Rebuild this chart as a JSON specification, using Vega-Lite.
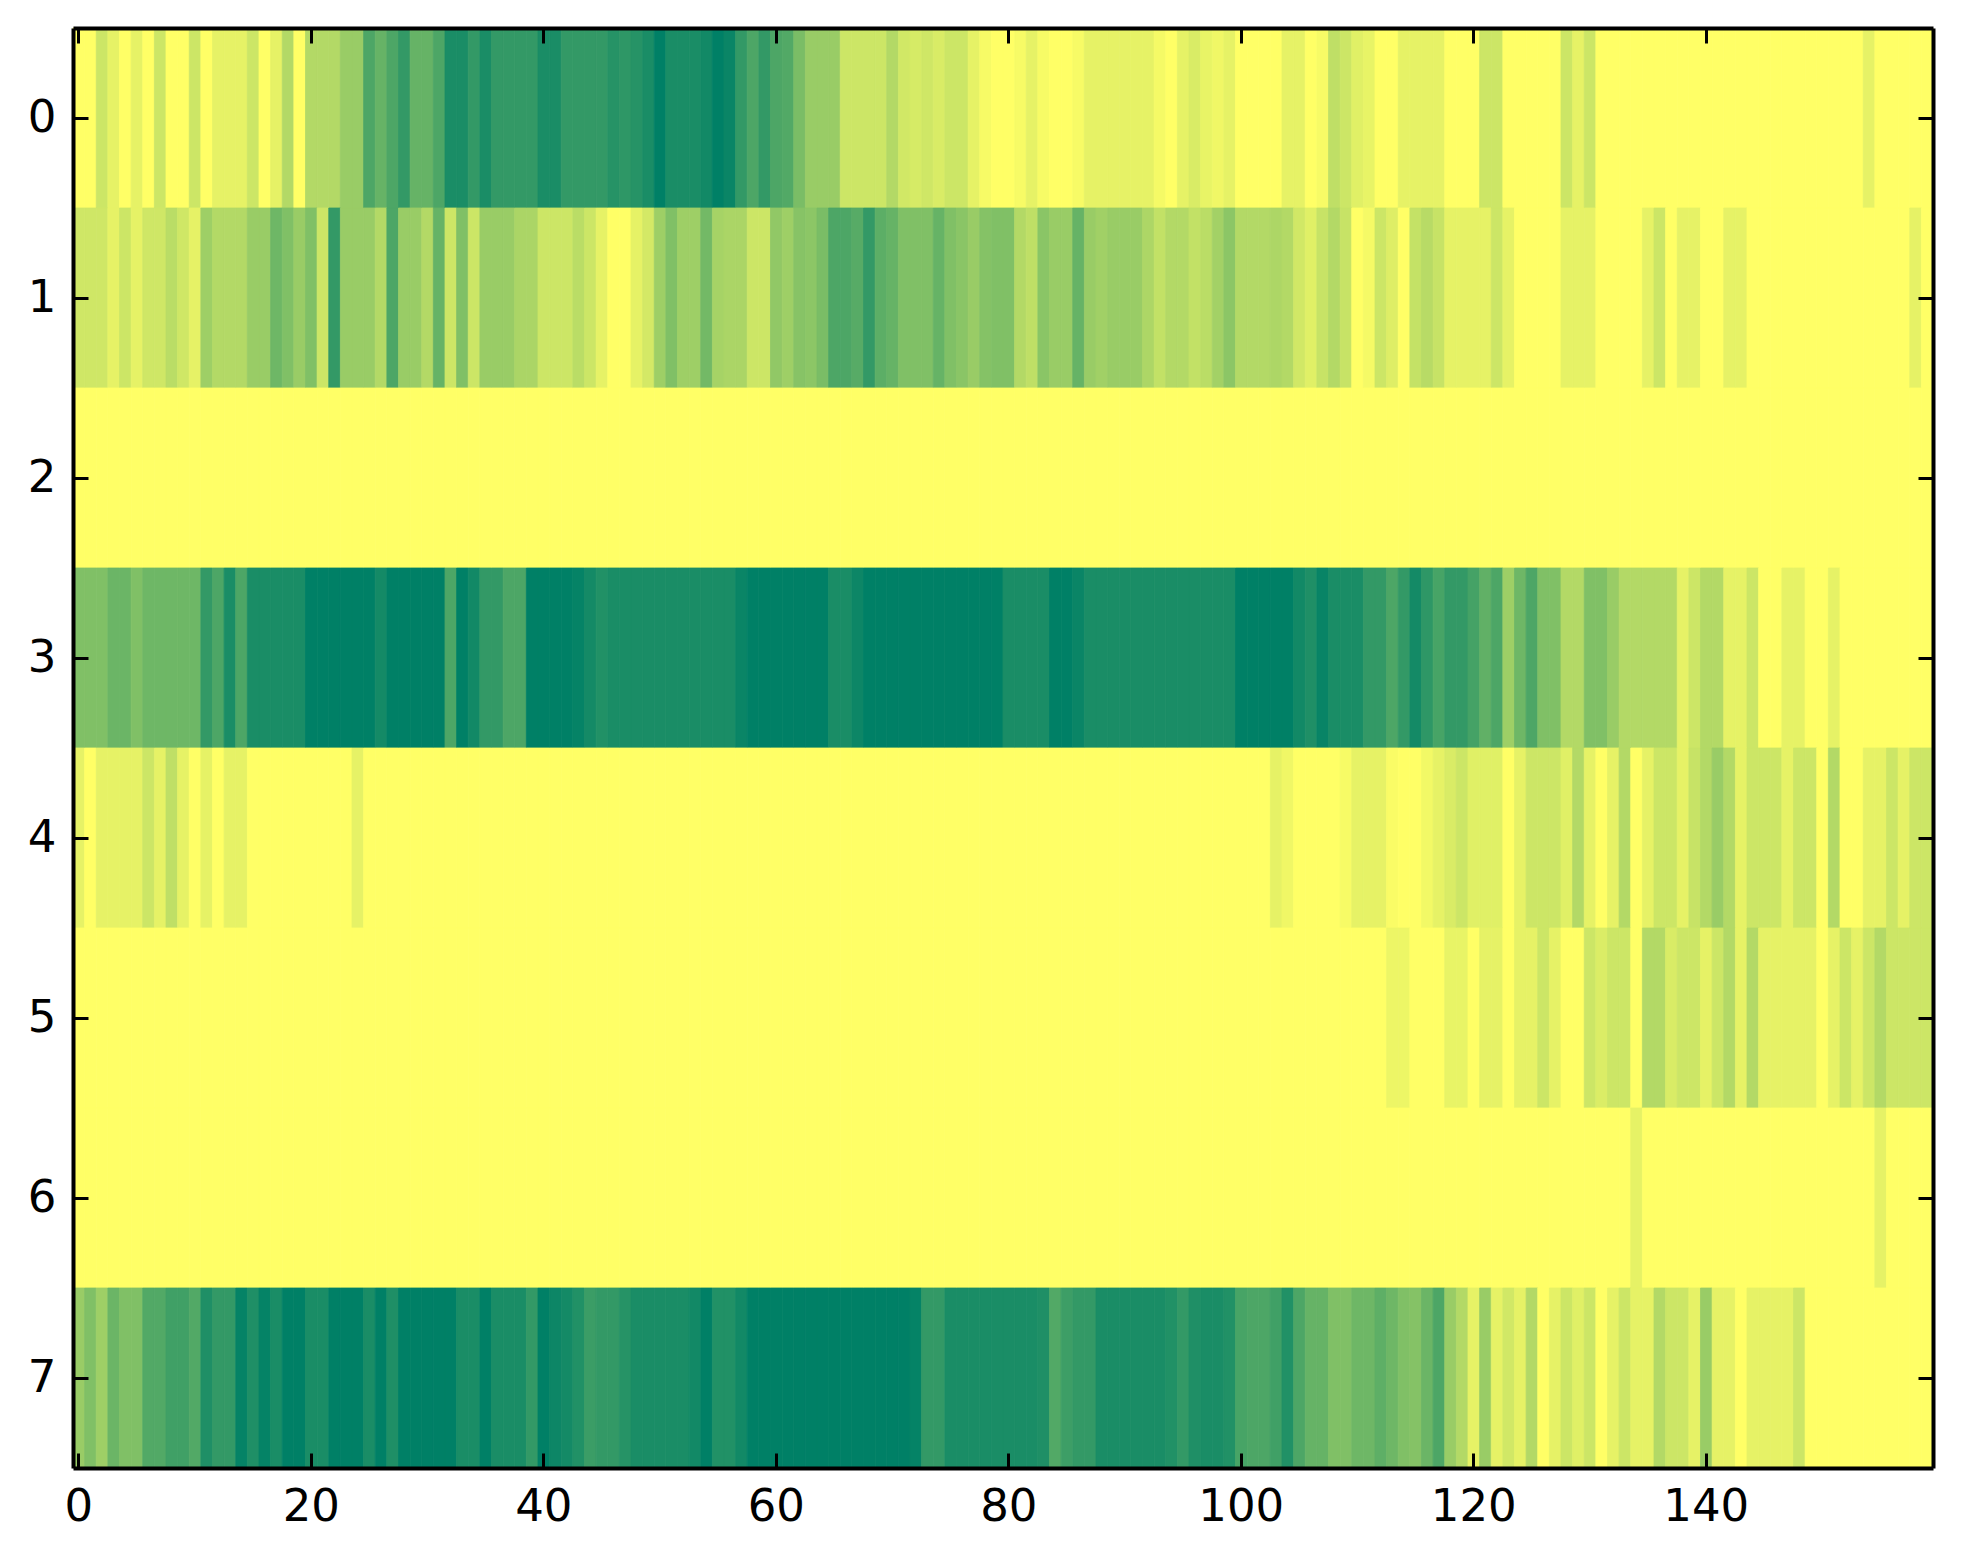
{"$schema":"https://vega.github.io/schema/vega-lite/v6.json","width":1860,"height":1440,"autosize":"none","padding":{"left":73,"top":28,"right":30,"bottom":96},"background":"white",
"config":{"view":{"stroke":null}},
"data":{"values":[
{"r":0,"c":0,"v":0},{"r":0,"c":1,"v":0},{"r":0,"c":2,"v":0.2},{"r":0,"c":3,"v":0.1},{"r":0,"c":4,"v":0},{"r":0,"c":5,"v":0.1},{"r":0,"c":6,"v":0},{"r":0,"c":7,"v":0.2},{"r":0,"c":8,"v":0},{"r":0,"c":9,"v":0},
{"r":0,"c":10,"v":0.2},{"r":0,"c":11,"v":0},{"r":0,"c":12,"v":0.1},{"r":0,"c":13,"v":0.1},{"r":0,"c":14,"v":0.1},{"r":0,"c":15,"v":0.2},{"r":0,"c":16,"v":0},{"r":0,"c":17,"v":0.1},{"r":0,"c":18,"v":0.3},{"r":0,"c":19,"v":0},
{"r":0,"c":20,"v":0.3},{"r":0,"c":21,"v":0.3},{"r":0,"c":22,"v":0.3},{"r":0,"c":23,"v":0.4},{"r":0,"c":24,"v":0.4},{"r":0,"c":25,"v":0.7},{"r":0,"c":26,"v":0.6},{"r":0,"c":27,"v":0.7},{"r":0,"c":28,"v":0.8},{"r":0,"c":29,"v":0.6},
{"r":0,"c":30,"v":0.6},{"r":0,"c":31,"v":0.7},{"r":0,"c":32,"v":0.9},{"r":0,"c":33,"v":0.9},{"r":0,"c":34,"v":0.8},{"r":0,"c":35,"v":0.9},{"r":0,"c":36,"v":0.8},{"r":0,"c":37,"v":0.8},{"r":0,"c":38,"v":0.8},{"r":0,"c":39,"v":0.8},
{"r":0,"c":40,"v":0.9},{"r":0,"c":41,"v":0.9},{"r":0,"c":42,"v":0.8},{"r":0,"c":43,"v":0.8},{"r":0,"c":44,"v":0.8},{"r":0,"c":45,"v":0.8},{"r":0,"c":46,"v":0.85},{"r":0,"c":47,"v":0.82},{"r":0,"c":48,"v":0.85},{"r":0,"c":49,"v":0.9},
{"r":0,"c":50,"v":1},{"r":0,"c":51,"v":0.9},{"r":0,"c":52,"v":0.9},{"r":0,"c":53,"v":0.9},{"r":0,"c":54,"v":0.93},{"r":0,"c":55,"v":1},{"r":0,"c":56,"v":0.96},{"r":0,"c":57,"v":0.8},{"r":0,"c":58,"v":0.7},{"r":0,"c":59,"v":0.8},
{"r":0,"c":60,"v":0.7},{"r":0,"c":61,"v":0.68},{"r":0,"c":62,"v":0.52},{"r":0,"c":63,"v":0.4},{"r":0,"c":64,"v":0.4},{"r":0,"c":65,"v":0.4},{"r":0,"c":66,"v":0.2},{"r":0,"c":67,"v":0.2},{"r":0,"c":68,"v":0.2},{"r":0,"c":69,"v":0.2},
{"r":0,"c":70,"v":0.3},{"r":0,"c":71,"v":0.18},{"r":0,"c":72,"v":0.16},{"r":0,"c":73,"v":0.19},{"r":0,"c":74,"v":0.15},{"r":0,"c":75,"v":0.2},{"r":0,"c":76,"v":0.2},{"r":0,"c":77,"v":0.1},{"r":0,"c":78,"v":0.03},{"r":0,"c":79,"v":0},
{"r":0,"c":80,"v":0},{"r":0,"c":81,"v":0.03},{"r":0,"c":82,"v":0.1},{"r":0,"c":83,"v":0.03},{"r":0,"c":84,"v":0},{"r":0,"c":85,"v":0},{"r":0,"c":86,"v":0.03},{"r":0,"c":87,"v":0.1},{"r":0,"c":88,"v":0.1},{"r":0,"c":89,"v":0.1},
{"r":0,"c":90,"v":0.1},{"r":0,"c":91,"v":0.1},{"r":0,"c":92,"v":0.1},{"r":0,"c":93,"v":0.04},{"r":0,"c":94,"v":0},{"r":0,"c":95,"v":0.1},{"r":0,"c":96,"v":0.15},{"r":0,"c":97,"v":0.09},{"r":0,"c":98,"v":0.06},{"r":0,"c":99,"v":0.1},
{"r":0,"c":100,"v":0},{"r":0,"c":101,"v":0},{"r":0,"c":102,"v":0},{"r":0,"c":103,"v":0},{"r":0,"c":104,"v":0.1},{"r":0,"c":105,"v":0.1},{"r":0,"c":106,"v":0},{"r":0,"c":107,"v":0.03},{"r":0,"c":108,"v":0.25},{"r":0,"c":109,"v":0.2},
{"r":0,"c":110,"v":0.12},{"r":0,"c":111,"v":0.09},{"r":0,"c":112,"v":0},{"r":0,"c":113,"v":0},{"r":0,"c":114,"v":0.1},{"r":0,"c":115,"v":0.1},{"r":0,"c":116,"v":0.1},{"r":0,"c":117,"v":0.1},{"r":0,"c":118,"v":0},{"r":0,"c":119,"v":0},
{"r":0,"c":120,"v":0},{"r":0,"c":121,"v":0.2},{"r":0,"c":122,"v":0.2},{"r":0,"c":123,"v":0},{"r":0,"c":124,"v":0},{"r":0,"c":125,"v":0},{"r":0,"c":126,"v":0},{"r":0,"c":127,"v":0},{"r":0,"c":128,"v":0.2},{"r":0,"c":129,"v":0.1},
{"r":0,"c":130,"v":0.2},{"r":0,"c":131,"v":0},{"r":0,"c":132,"v":0},{"r":0,"c":133,"v":0},{"r":0,"c":134,"v":0},{"r":0,"c":135,"v":0},{"r":0,"c":136,"v":0},{"r":0,"c":137,"v":0},{"r":0,"c":138,"v":0},{"r":0,"c":139,"v":0},
{"r":0,"c":140,"v":0},{"r":0,"c":141,"v":0},{"r":0,"c":142,"v":0},{"r":0,"c":143,"v":0},{"r":0,"c":144,"v":0},{"r":0,"c":145,"v":0},{"r":0,"c":146,"v":0},{"r":0,"c":147,"v":0},{"r":0,"c":148,"v":0},{"r":0,"c":149,"v":0},
{"r":0,"c":150,"v":0},{"r":0,"c":151,"v":0},{"r":0,"c":152,"v":0},{"r":0,"c":153,"v":0},{"r":0,"c":154,"v":0.1},{"r":0,"c":155,"v":0},{"r":0,"c":156,"v":0},{"r":0,"c":157,"v":0},{"r":0,"c":158,"v":0},{"r":0,"c":159,"v":0},
{"r":1,"c":0,"v":0.19},{"r":1,"c":1,"v":0.19},{"r":1,"c":2,"v":0.19},{"r":1,"c":3,"v":0.1},{"r":1,"c":4,"v":0.2},{"r":1,"c":5,"v":0.1},{"r":1,"c":6,"v":0.19},{"r":1,"c":7,"v":0.19},{"r":1,"c":8,"v":0.27},{"r":1,"c":9,"v":0.19},
{"r":1,"c":10,"v":0.1},{"r":1,"c":11,"v":0.38},{"r":1,"c":12,"v":0.3},{"r":1,"c":13,"v":0.3},{"r":1,"c":14,"v":0.3},{"r":1,"c":15,"v":0.4},{"r":1,"c":16,"v":0.4},{"r":1,"c":17,"v":0.57},{"r":1,"c":18,"v":0.5},{"r":1,"c":19,"v":0.4},
{"r":1,"c":20,"v":0.5},{"r":1,"c":21,"v":0.2},{"r":1,"c":22,"v":0.8},{"r":1,"c":23,"v":0.4},{"r":1,"c":24,"v":0.4},{"r":1,"c":25,"v":0.4},{"r":1,"c":26,"v":0.3},{"r":1,"c":27,"v":0.7},{"r":1,"c":28,"v":0.4},{"r":1,"c":29,"v":0.4},
{"r":1,"c":30,"v":0.3},{"r":1,"c":31,"v":0.6},{"r":1,"c":32,"v":0.2},{"r":1,"c":33,"v":0.5},{"r":1,"c":34,"v":0.2},{"r":1,"c":35,"v":0.4},{"r":1,"c":36,"v":0.4},{"r":1,"c":37,"v":0.4},{"r":1,"c":38,"v":0.33},{"r":1,"c":39,"v":0.33},
{"r":1,"c":40,"v":0.2},{"r":1,"c":41,"v":0.2},{"r":1,"c":42,"v":0.2},{"r":1,"c":43,"v":0.27},{"r":1,"c":44,"v":0.2},{"r":1,"c":45,"v":0.1},{"r":1,"c":46,"v":0},{"r":1,"c":47,"v":0},{"r":1,"c":48,"v":0.1},{"r":1,"c":49,"v":0.17},
{"r":1,"c":50,"v":0.38},{"r":1,"c":51,"v":0.5},{"r":1,"c":52,"v":0.38},{"r":1,"c":53,"v":0.38},{"r":1,"c":54,"v":0.55},{"r":1,"c":55,"v":0.35},{"r":1,"c":56,"v":0.33},{"r":1,"c":57,"v":0.33},{"r":1,"c":58,"v":0.2},{"r":1,"c":59,"v":0.2},
{"r":1,"c":60,"v":0.43},{"r":1,"c":61,"v":0.38},{"r":1,"c":62,"v":0.47},{"r":1,"c":63,"v":0.45},{"r":1,"c":64,"v":0.52},{"r":1,"c":65,"v":0.7},{"r":1,"c":66,"v":0.7},{"r":1,"c":67,"v":0.66},{"r":1,"c":68,"v":0.8},{"r":1,"c":69,"v":0.64},
{"r":1,"c":70,"v":0.6},{"r":1,"c":71,"v":0.5},{"r":1,"c":72,"v":0.5},{"r":1,"c":73,"v":0.5},{"r":1,"c":74,"v":0.6},{"r":1,"c":75,"v":0.5},{"r":1,"c":76,"v":0.46},{"r":1,"c":77,"v":0.4},{"r":1,"c":78,"v":0.48},{"r":1,"c":79,"v":0.5},
{"r":1,"c":80,"v":0.5},{"r":1,"c":81,"v":0.3},{"r":1,"c":82,"v":0.25},{"r":1,"c":83,"v":0.46},{"r":1,"c":84,"v":0.4},{"r":1,"c":85,"v":0.4},{"r":1,"c":86,"v":0.6},{"r":1,"c":87,"v":0.4},{"r":1,"c":88,"v":0.37},{"r":1,"c":89,"v":0.4},
{"r":1,"c":90,"v":0.4},{"r":1,"c":91,"v":0.4},{"r":1,"c":92,"v":0.32},{"r":1,"c":93,"v":0.24},{"r":1,"c":94,"v":0.3},{"r":1,"c":95,"v":0.3},{"r":1,"c":96,"v":0.24},{"r":1,"c":97,"v":0.27},{"r":1,"c":98,"v":0.36},{"r":1,"c":99,"v":0.45},
{"r":1,"c":100,"v":0.3},{"r":1,"c":101,"v":0.3},{"r":1,"c":102,"v":0.3},{"r":1,"c":103,"v":0.32},{"r":1,"c":104,"v":0.3},{"r":1,"c":105,"v":0.18},{"r":1,"c":106,"v":0.12},{"r":1,"c":107,"v":0.22},{"r":1,"c":108,"v":0.3},{"r":1,"c":109,"v":0.22},
{"r":1,"c":110,"v":0},{"r":1,"c":111,"v":0.04},{"r":1,"c":112,"v":0.2},{"r":1,"c":113,"v":0.13},{"r":1,"c":114,"v":0},{"r":1,"c":115,"v":0.23},{"r":1,"c":116,"v":0.28},{"r":1,"c":117,"v":0.22},{"r":1,"c":118,"v":0.1},{"r":1,"c":119,"v":0.1},
{"r":1,"c":120,"v":0.1},{"r":1,"c":121,"v":0.1},{"r":1,"c":122,"v":0.2},{"r":1,"c":123,"v":0.1},{"r":1,"c":124,"v":0},{"r":1,"c":125,"v":0},{"r":1,"c":126,"v":0},{"r":1,"c":127,"v":0},{"r":1,"c":128,"v":0.1},{"r":1,"c":129,"v":0.1},
{"r":1,"c":130,"v":0.1},{"r":1,"c":131,"v":0},{"r":1,"c":132,"v":0},{"r":1,"c":133,"v":0},{"r":1,"c":134,"v":0},{"r":1,"c":135,"v":0.1},{"r":1,"c":136,"v":0.2},{"r":1,"c":137,"v":0},{"r":1,"c":138,"v":0.1},{"r":1,"c":139,"v":0.1},
{"r":1,"c":140,"v":0},{"r":1,"c":141,"v":0},{"r":1,"c":142,"v":0.1},{"r":1,"c":143,"v":0.1},{"r":1,"c":144,"v":0},{"r":1,"c":145,"v":0},{"r":1,"c":146,"v":0},{"r":1,"c":147,"v":0},{"r":1,"c":148,"v":0},{"r":1,"c":149,"v":0},
{"r":1,"c":150,"v":0},{"r":1,"c":151,"v":0},{"r":1,"c":152,"v":0},{"r":1,"c":153,"v":0},{"r":1,"c":154,"v":0},{"r":1,"c":155,"v":0},{"r":1,"c":156,"v":0},{"r":1,"c":157,"v":0},{"r":1,"c":158,"v":0.1},{"r":1,"c":159,"v":0},
{"r":2,"c":0,"v":0},{"r":2,"c":1,"v":0},{"r":2,"c":2,"v":0},{"r":2,"c":3,"v":0},{"r":2,"c":4,"v":0},{"r":2,"c":5,"v":0},{"r":2,"c":6,"v":0},{"r":2,"c":7,"v":0},{"r":2,"c":8,"v":0},{"r":2,"c":9,"v":0},
{"r":2,"c":10,"v":0},{"r":2,"c":11,"v":0},{"r":2,"c":12,"v":0},{"r":2,"c":13,"v":0},{"r":2,"c":14,"v":0},{"r":2,"c":15,"v":0},{"r":2,"c":16,"v":0},{"r":2,"c":17,"v":0},{"r":2,"c":18,"v":0},{"r":2,"c":19,"v":0},
{"r":2,"c":20,"v":0},{"r":2,"c":21,"v":0},{"r":2,"c":22,"v":0},{"r":2,"c":23,"v":0},{"r":2,"c":24,"v":0},{"r":2,"c":25,"v":0},{"r":2,"c":26,"v":0},{"r":2,"c":27,"v":0},{"r":2,"c":28,"v":0},{"r":2,"c":29,"v":0},
{"r":2,"c":30,"v":0},{"r":2,"c":31,"v":0},{"r":2,"c":32,"v":0},{"r":2,"c":33,"v":0},{"r":2,"c":34,"v":0},{"r":2,"c":35,"v":0},{"r":2,"c":36,"v":0},{"r":2,"c":37,"v":0},{"r":2,"c":38,"v":0},{"r":2,"c":39,"v":0},
{"r":2,"c":40,"v":0},{"r":2,"c":41,"v":0},{"r":2,"c":42,"v":0},{"r":2,"c":43,"v":0},{"r":2,"c":44,"v":0},{"r":2,"c":45,"v":0},{"r":2,"c":46,"v":0},{"r":2,"c":47,"v":0},{"r":2,"c":48,"v":0},{"r":2,"c":49,"v":0},
{"r":2,"c":50,"v":0},{"r":2,"c":51,"v":0},{"r":2,"c":52,"v":0},{"r":2,"c":53,"v":0},{"r":2,"c":54,"v":0},{"r":2,"c":55,"v":0},{"r":2,"c":56,"v":0},{"r":2,"c":57,"v":0},{"r":2,"c":58,"v":0},{"r":2,"c":59,"v":0},
{"r":2,"c":60,"v":0},{"r":2,"c":61,"v":0},{"r":2,"c":62,"v":0},{"r":2,"c":63,"v":0},{"r":2,"c":64,"v":0},{"r":2,"c":65,"v":0},{"r":2,"c":66,"v":0},{"r":2,"c":67,"v":0},{"r":2,"c":68,"v":0},{"r":2,"c":69,"v":0},
{"r":2,"c":70,"v":0},{"r":2,"c":71,"v":0},{"r":2,"c":72,"v":0},{"r":2,"c":73,"v":0},{"r":2,"c":74,"v":0},{"r":2,"c":75,"v":0},{"r":2,"c":76,"v":0},{"r":2,"c":77,"v":0},{"r":2,"c":78,"v":0},{"r":2,"c":79,"v":0},
{"r":2,"c":80,"v":0},{"r":2,"c":81,"v":0},{"r":2,"c":82,"v":0},{"r":2,"c":83,"v":0},{"r":2,"c":84,"v":0},{"r":2,"c":85,"v":0},{"r":2,"c":86,"v":0},{"r":2,"c":87,"v":0},{"r":2,"c":88,"v":0},{"r":2,"c":89,"v":0},
{"r":2,"c":90,"v":0},{"r":2,"c":91,"v":0},{"r":2,"c":92,"v":0},{"r":2,"c":93,"v":0},{"r":2,"c":94,"v":0},{"r":2,"c":95,"v":0},{"r":2,"c":96,"v":0},{"r":2,"c":97,"v":0},{"r":2,"c":98,"v":0},{"r":2,"c":99,"v":0},
{"r":2,"c":100,"v":0},{"r":2,"c":101,"v":0},{"r":2,"c":102,"v":0},{"r":2,"c":103,"v":0},{"r":2,"c":104,"v":0},{"r":2,"c":105,"v":0},{"r":2,"c":106,"v":0},{"r":2,"c":107,"v":0},{"r":2,"c":108,"v":0},{"r":2,"c":109,"v":0},
{"r":2,"c":110,"v":0},{"r":2,"c":111,"v":0},{"r":2,"c":112,"v":0},{"r":2,"c":113,"v":0},{"r":2,"c":114,"v":0},{"r":2,"c":115,"v":0},{"r":2,"c":116,"v":0},{"r":2,"c":117,"v":0},{"r":2,"c":118,"v":0},{"r":2,"c":119,"v":0},
{"r":2,"c":120,"v":0},{"r":2,"c":121,"v":0},{"r":2,"c":122,"v":0},{"r":2,"c":123,"v":0},{"r":2,"c":124,"v":0},{"r":2,"c":125,"v":0},{"r":2,"c":126,"v":0},{"r":2,"c":127,"v":0},{"r":2,"c":128,"v":0},{"r":2,"c":129,"v":0},
{"r":2,"c":130,"v":0},{"r":2,"c":131,"v":0},{"r":2,"c":132,"v":0},{"r":2,"c":133,"v":0},{"r":2,"c":134,"v":0},{"r":2,"c":135,"v":0},{"r":2,"c":136,"v":0},{"r":2,"c":137,"v":0},{"r":2,"c":138,"v":0},{"r":2,"c":139,"v":0},
{"r":2,"c":140,"v":0},{"r":2,"c":141,"v":0},{"r":2,"c":142,"v":0},{"r":2,"c":143,"v":0},{"r":2,"c":144,"v":0},{"r":2,"c":145,"v":0},{"r":2,"c":146,"v":0},{"r":2,"c":147,"v":0},{"r":2,"c":148,"v":0},{"r":2,"c":149,"v":0},
{"r":2,"c":150,"v":0},{"r":2,"c":151,"v":0},{"r":2,"c":152,"v":0},{"r":2,"c":153,"v":0},{"r":2,"c":154,"v":0},{"r":2,"c":155,"v":0},{"r":2,"c":156,"v":0},{"r":2,"c":157,"v":0},{"r":2,"c":158,"v":0},{"r":2,"c":159,"v":0},
{"r":3,"c":0,"v":0.5},{"r":3,"c":1,"v":0.5},{"r":3,"c":2,"v":0.5},{"r":3,"c":3,"v":0.58},{"r":3,"c":4,"v":0.58},{"r":3,"c":5,"v":0.5},{"r":3,"c":6,"v":0.57},{"r":3,"c":7,"v":0.57},{"r":3,"c":8,"v":0.57},{"r":3,"c":9,"v":0.57},
{"r":3,"c":10,"v":0.57},{"r":3,"c":11,"v":0.8},{"r":3,"c":12,"v":0.7},{"r":3,"c":13,"v":0.9},{"r":3,"c":14,"v":0.7},{"r":3,"c":15,"v":0.9},{"r":3,"c":16,"v":0.9},{"r":3,"c":17,"v":0.9},{"r":3,"c":18,"v":0.9},{"r":3,"c":19,"v":0.9},
{"r":3,"c":20,"v":1},{"r":3,"c":21,"v":1},{"r":3,"c":22,"v":1},{"r":3,"c":23,"v":1},{"r":3,"c":24,"v":1},{"r":3,"c":25,"v":1},{"r":3,"c":26,"v":0.92},{"r":3,"c":27,"v":1},{"r":3,"c":28,"v":1},{"r":3,"c":29,"v":1},
{"r":3,"c":30,"v":1},{"r":3,"c":31,"v":1},{"r":3,"c":32,"v":0.7},{"r":3,"c":33,"v":1},{"r":3,"c":34,"v":0.93},{"r":3,"c":35,"v":0.8},{"r":3,"c":36,"v":0.8},{"r":3,"c":37,"v":0.7},{"r":3,"c":38,"v":0.7},{"r":3,"c":39,"v":1},
{"r":3,"c":40,"v":1},{"r":3,"c":41,"v":1},{"r":3,"c":42,"v":1},{"r":3,"c":43,"v":0.98},{"r":3,"c":44,"v":0.92},{"r":3,"c":45,"v":0.87},{"r":3,"c":46,"v":0.9},{"r":3,"c":47,"v":0.9},{"r":3,"c":48,"v":0.9},{"r":3,"c":49,"v":0.9},
{"r":3,"c":50,"v":0.9},{"r":3,"c":51,"v":0.9},{"r":3,"c":52,"v":0.9},{"r":3,"c":53,"v":0.9},{"r":3,"c":54,"v":0.9},{"r":3,"c":55,"v":0.9},{"r":3,"c":56,"v":0.9},{"r":3,"c":57,"v":0.96},{"r":3,"c":58,"v":1},{"r":3,"c":59,"v":1},
{"r":3,"c":60,"v":1},{"r":3,"c":61,"v":1},{"r":3,"c":62,"v":1},{"r":3,"c":63,"v":1},{"r":3,"c":64,"v":1},{"r":3,"c":65,"v":0.9},{"r":3,"c":66,"v":0.9},{"r":3,"c":67,"v":0.95},{"r":3,"c":68,"v":1},{"r":3,"c":69,"v":1},
{"r":3,"c":70,"v":1},{"r":3,"c":71,"v":1},{"r":3,"c":72,"v":1},{"r":3,"c":73,"v":1},{"r":3,"c":74,"v":1},{"r":3,"c":75,"v":1},{"r":3,"c":76,"v":1},{"r":3,"c":77,"v":1},{"r":3,"c":78,"v":1},{"r":3,"c":79,"v":1},
{"r":3,"c":80,"v":0.9},{"r":3,"c":81,"v":0.9},{"r":3,"c":82,"v":0.9},{"r":3,"c":83,"v":0.9},{"r":3,"c":84,"v":1},{"r":3,"c":85,"v":1},{"r":3,"c":86,"v":0.96},{"r":3,"c":87,"v":0.9},{"r":3,"c":88,"v":0.9},{"r":3,"c":89,"v":0.9},
{"r":3,"c":90,"v":0.9},{"r":3,"c":91,"v":0.9},{"r":3,"c":92,"v":0.9},{"r":3,"c":93,"v":0.9},{"r":3,"c":94,"v":0.9},{"r":3,"c":95,"v":0.9},{"r":3,"c":96,"v":0.9},{"r":3,"c":97,"v":0.9},{"r":3,"c":98,"v":0.9},{"r":3,"c":99,"v":0.9},
{"r":3,"c":100,"v":1},{"r":3,"c":101,"v":1},{"r":3,"c":102,"v":1},{"r":3,"c":103,"v":1},{"r":3,"c":104,"v":1},{"r":3,"c":105,"v":0.93},{"r":3,"c":106,"v":0.88},{"r":3,"c":107,"v":0.97},{"r":3,"c":108,"v":0.9},{"r":3,"c":109,"v":0.9},
{"r":3,"c":110,"v":0.9},{"r":3,"c":111,"v":0.8},{"r":3,"c":112,"v":0.8},{"r":3,"c":113,"v":0.7},{"r":3,"c":114,"v":0.8},{"r":3,"c":115,"v":0.92},{"r":3,"c":116,"v":0.82},{"r":3,"c":117,"v":0.72},{"r":3,"c":118,"v":0.8},{"r":3,"c":119,"v":0.8},
{"r":3,"c":120,"v":0.73},{"r":3,"c":121,"v":0.62},{"r":3,"c":122,"v":0.7},{"r":3,"c":123,"v":0.38},{"r":3,"c":124,"v":0.57},{"r":3,"c":125,"v":0.7},{"r":3,"c":126,"v":0.5},{"r":3,"c":127,"v":0.5},{"r":3,"c":128,"v":0.3},{"r":3,"c":129,"v":0.3},
{"r":3,"c":130,"v":0.5},{"r":3,"c":131,"v":0.5},{"r":3,"c":132,"v":0.4},{"r":3,"c":133,"v":0.3},{"r":3,"c":134,"v":0.3},{"r":3,"c":135,"v":0.3},{"r":3,"c":136,"v":0.3},{"r":3,"c":137,"v":0.3},{"r":3,"c":138,"v":0.1},{"r":3,"c":139,"v":0.2},
{"r":3,"c":140,"v":0.3},{"r":3,"c":141,"v":0.3},{"r":3,"c":142,"v":0.1},{"r":3,"c":143,"v":0.1},{"r":3,"c":144,"v":0.2},{"r":3,"c":145,"v":0},{"r":3,"c":146,"v":0},{"r":3,"c":147,"v":0.1},{"r":3,"c":148,"v":0.1},{"r":3,"c":149,"v":0},
{"r":3,"c":150,"v":0},{"r":3,"c":151,"v":0.1},{"r":3,"c":152,"v":0},{"r":3,"c":153,"v":0},{"r":3,"c":154,"v":0},{"r":3,"c":155,"v":0},{"r":3,"c":156,"v":0},{"r":3,"c":157,"v":0},{"r":3,"c":158,"v":0},{"r":3,"c":159,"v":0},
{"r":4,"c":0,"v":0.1},{"r":4,"c":1,"v":0},{"r":4,"c":2,"v":0.1},{"r":4,"c":3,"v":0.1},{"r":4,"c":4,"v":0.1},{"r":4,"c":5,"v":0.1},{"r":4,"c":6,"v":0.2},{"r":4,"c":7,"v":0.1},{"r":4,"c":8,"v":0.25},{"r":4,"c":9,"v":0.1},
{"r":4,"c":10,"v":0},{"r":4,"c":11,"v":0.1},{"r":4,"c":12,"v":0},{"r":4,"c":13,"v":0.1},{"r":4,"c":14,"v":0.1},{"r":4,"c":15,"v":0},{"r":4,"c":16,"v":0},{"r":4,"c":17,"v":0},{"r":4,"c":18,"v":0},{"r":4,"c":19,"v":0},
{"r":4,"c":20,"v":0},{"r":4,"c":21,"v":0},{"r":4,"c":22,"v":0},{"r":4,"c":23,"v":0},{"r":4,"c":24,"v":0.1},{"r":4,"c":25,"v":0},{"r":4,"c":26,"v":0},{"r":4,"c":27,"v":0},{"r":4,"c":28,"v":0},{"r":4,"c":29,"v":0},
{"r":4,"c":30,"v":0},{"r":4,"c":31,"v":0},{"r":4,"c":32,"v":0},{"r":4,"c":33,"v":0},{"r":4,"c":34,"v":0},{"r":4,"c":35,"v":0},{"r":4,"c":36,"v":0},{"r":4,"c":37,"v":0},{"r":4,"c":38,"v":0},{"r":4,"c":39,"v":0},
{"r":4,"c":40,"v":0},{"r":4,"c":41,"v":0},{"r":4,"c":42,"v":0},{"r":4,"c":43,"v":0},{"r":4,"c":44,"v":0},{"r":4,"c":45,"v":0},{"r":4,"c":46,"v":0},{"r":4,"c":47,"v":0},{"r":4,"c":48,"v":0},{"r":4,"c":49,"v":0},
{"r":4,"c":50,"v":0},{"r":4,"c":51,"v":0},{"r":4,"c":52,"v":0},{"r":4,"c":53,"v":0},{"r":4,"c":54,"v":0},{"r":4,"c":55,"v":0},{"r":4,"c":56,"v":0},{"r":4,"c":57,"v":0},{"r":4,"c":58,"v":0},{"r":4,"c":59,"v":0},
{"r":4,"c":60,"v":0},{"r":4,"c":61,"v":0},{"r":4,"c":62,"v":0},{"r":4,"c":63,"v":0},{"r":4,"c":64,"v":0},{"r":4,"c":65,"v":0},{"r":4,"c":66,"v":0},{"r":4,"c":67,"v":0},{"r":4,"c":68,"v":0},{"r":4,"c":69,"v":0},
{"r":4,"c":70,"v":0},{"r":4,"c":71,"v":0},{"r":4,"c":72,"v":0},{"r":4,"c":73,"v":0},{"r":4,"c":74,"v":0},{"r":4,"c":75,"v":0},{"r":4,"c":76,"v":0},{"r":4,"c":77,"v":0},{"r":4,"c":78,"v":0},{"r":4,"c":79,"v":0},
{"r":4,"c":80,"v":0},{"r":4,"c":81,"v":0},{"r":4,"c":82,"v":0},{"r":4,"c":83,"v":0},{"r":4,"c":84,"v":0},{"r":4,"c":85,"v":0},{"r":4,"c":86,"v":0},{"r":4,"c":87,"v":0},{"r":4,"c":88,"v":0},{"r":4,"c":89,"v":0},
{"r":4,"c":90,"v":0},{"r":4,"c":91,"v":0},{"r":4,"c":92,"v":0},{"r":4,"c":93,"v":0},{"r":4,"c":94,"v":0},{"r":4,"c":95,"v":0},{"r":4,"c":96,"v":0},{"r":4,"c":97,"v":0},{"r":4,"c":98,"v":0},{"r":4,"c":99,"v":0},
{"r":4,"c":100,"v":0},{"r":4,"c":101,"v":0},{"r":4,"c":102,"v":0},{"r":4,"c":103,"v":0.1},{"r":4,"c":104,"v":0.06},{"r":4,"c":105,"v":0},{"r":4,"c":106,"v":0},{"r":4,"c":107,"v":0},{"r":4,"c":108,"v":0},{"r":4,"c":109,"v":0.03},
{"r":4,"c":110,"v":0.1},{"r":4,"c":111,"v":0.1},{"r":4,"c":112,"v":0.1},{"r":4,"c":113,"v":0.02},{"r":4,"c":114,"v":0},{"r":4,"c":115,"v":0},{"r":4,"c":116,"v":0.05},{"r":4,"c":117,"v":0.1},{"r":4,"c":118,"v":0.15},{"r":4,"c":119,"v":0.2},
{"r":4,"c":120,"v":0.12},{"r":4,"c":121,"v":0.12},{"r":4,"c":122,"v":0.12},{"r":4,"c":123,"v":0},{"r":4,"c":124,"v":0.1},{"r":4,"c":125,"v":0.2},{"r":4,"c":126,"v":0.2},{"r":4,"c":127,"v":0.2},{"r":4,"c":128,"v":0.12},{"r":4,"c":129,"v":0.3},
{"r":4,"c":130,"v":0.1},{"r":4,"c":131,"v":0},{"r":4,"c":132,"v":0.1},{"r":4,"c":133,"v":0.3},{"r":4,"c":134,"v":0},{"r":4,"c":135,"v":0.1},{"r":4,"c":136,"v":0.2},{"r":4,"c":137,"v":0.2},{"r":4,"c":138,"v":0.1},{"r":4,"c":139,"v":0.22},
{"r":4,"c":140,"v":0.3},{"r":4,"c":141,"v":0.4},{"r":4,"c":142,"v":0.3},{"r":4,"c":143,"v":0.1},{"r":4,"c":144,"v":0.2},{"r":4,"c":145,"v":0.2},{"r":4,"c":146,"v":0.2},{"r":4,"c":147,"v":0.1},{"r":4,"c":148,"v":0.2},{"r":4,"c":149,"v":0.2},
{"r":4,"c":150,"v":0},{"r":4,"c":151,"v":0.3},{"r":4,"c":152,"v":0},{"r":4,"c":153,"v":0},{"r":4,"c":154,"v":0.1},{"r":4,"c":155,"v":0.1},{"r":4,"c":156,"v":0.2},{"r":4,"c":157,"v":0.1},{"r":4,"c":158,"v":0.2},{"r":4,"c":159,"v":0.2},
{"r":5,"c":0,"v":0},{"r":5,"c":1,"v":0},{"r":5,"c":2,"v":0},{"r":5,"c":3,"v":0},{"r":5,"c":4,"v":0},{"r":5,"c":5,"v":0},{"r":5,"c":6,"v":0},{"r":5,"c":7,"v":0},{"r":5,"c":8,"v":0},{"r":5,"c":9,"v":0},
{"r":5,"c":10,"v":0},{"r":5,"c":11,"v":0},{"r":5,"c":12,"v":0},{"r":5,"c":13,"v":0},{"r":5,"c":14,"v":0},{"r":5,"c":15,"v":0},{"r":5,"c":16,"v":0},{"r":5,"c":17,"v":0},{"r":5,"c":18,"v":0},{"r":5,"c":19,"v":0},
{"r":5,"c":20,"v":0},{"r":5,"c":21,"v":0},{"r":5,"c":22,"v":0},{"r":5,"c":23,"v":0},{"r":5,"c":24,"v":0},{"r":5,"c":25,"v":0},{"r":5,"c":26,"v":0},{"r":5,"c":27,"v":0},{"r":5,"c":28,"v":0},{"r":5,"c":29,"v":0},
{"r":5,"c":30,"v":0},{"r":5,"c":31,"v":0},{"r":5,"c":32,"v":0},{"r":5,"c":33,"v":0},{"r":5,"c":34,"v":0},{"r":5,"c":35,"v":0},{"r":5,"c":36,"v":0},{"r":5,"c":37,"v":0},{"r":5,"c":38,"v":0},{"r":5,"c":39,"v":0},
{"r":5,"c":40,"v":0},{"r":5,"c":41,"v":0},{"r":5,"c":42,"v":0},{"r":5,"c":43,"v":0},{"r":5,"c":44,"v":0},{"r":5,"c":45,"v":0},{"r":5,"c":46,"v":0},{"r":5,"c":47,"v":0},{"r":5,"c":48,"v":0},{"r":5,"c":49,"v":0},
{"r":5,"c":50,"v":0},{"r":5,"c":51,"v":0},{"r":5,"c":52,"v":0},{"r":5,"c":53,"v":0},{"r":5,"c":54,"v":0},{"r":5,"c":55,"v":0},{"r":5,"c":56,"v":0},{"r":5,"c":57,"v":0},{"r":5,"c":58,"v":0},{"r":5,"c":59,"v":0},
{"r":5,"c":60,"v":0},{"r":5,"c":61,"v":0},{"r":5,"c":62,"v":0},{"r":5,"c":63,"v":0},{"r":5,"c":64,"v":0},{"r":5,"c":65,"v":0},{"r":5,"c":66,"v":0},{"r":5,"c":67,"v":0},{"r":5,"c":68,"v":0},{"r":5,"c":69,"v":0},
{"r":5,"c":70,"v":0},{"r":5,"c":71,"v":0},{"r":5,"c":72,"v":0},{"r":5,"c":73,"v":0},{"r":5,"c":74,"v":0},{"r":5,"c":75,"v":0},{"r":5,"c":76,"v":0},{"r":5,"c":77,"v":0},{"r":5,"c":78,"v":0},{"r":5,"c":79,"v":0},
{"r":5,"c":80,"v":0},{"r":5,"c":81,"v":0},{"r":5,"c":82,"v":0},{"r":5,"c":83,"v":0},{"r":5,"c":84,"v":0},{"r":5,"c":85,"v":0},{"r":5,"c":86,"v":0},{"r":5,"c":87,"v":0},{"r":5,"c":88,"v":0},{"r":5,"c":89,"v":0},
{"r":5,"c":90,"v":0},{"r":5,"c":91,"v":0},{"r":5,"c":92,"v":0},{"r":5,"c":93,"v":0},{"r":5,"c":94,"v":0},{"r":5,"c":95,"v":0},{"r":5,"c":96,"v":0},{"r":5,"c":97,"v":0},{"r":5,"c":98,"v":0},{"r":5,"c":99,"v":0},
{"r":5,"c":100,"v":0},{"r":5,"c":101,"v":0},{"r":5,"c":102,"v":0},{"r":5,"c":103,"v":0},{"r":5,"c":104,"v":0},{"r":5,"c":105,"v":0},{"r":5,"c":106,"v":0},{"r":5,"c":107,"v":0},{"r":5,"c":108,"v":0},{"r":5,"c":109,"v":0},
{"r":5,"c":110,"v":0},{"r":5,"c":111,"v":0},{"r":5,"c":112,"v":0},{"r":5,"c":113,"v":0.07},{"r":5,"c":114,"v":0.07},{"r":5,"c":115,"v":0},{"r":5,"c":116,"v":0},{"r":5,"c":117,"v":0},{"r":5,"c":118,"v":0.09},{"r":5,"c":119,"v":0.09},
{"r":5,"c":120,"v":0},{"r":5,"c":121,"v":0.1},{"r":5,"c":122,"v":0.1},{"r":5,"c":123,"v":0},{"r":5,"c":124,"v":0.1},{"r":5,"c":125,"v":0.1},{"r":5,"c":126,"v":0.2},{"r":5,"c":127,"v":0.1},{"r":5,"c":128,"v":0},{"r":5,"c":129,"v":0},
{"r":5,"c":130,"v":0.2},{"r":5,"c":131,"v":0.14},{"r":5,"c":132,"v":0.2},{"r":5,"c":133,"v":0.2},{"r":5,"c":134,"v":0},{"r":5,"c":135,"v":0.3},{"r":5,"c":136,"v":0.3},{"r":5,"c":137,"v":0.15},{"r":5,"c":138,"v":0.2},{"r":5,"c":139,"v":0.2},
{"r":5,"c":140,"v":0.1},{"r":5,"c":141,"v":0.2},{"r":5,"c":142,"v":0.3},{"r":5,"c":143,"v":0.1},{"r":5,"c":144,"v":0.3},{"r":5,"c":145,"v":0.1},{"r":5,"c":146,"v":0.1},{"r":5,"c":147,"v":0.1},{"r":5,"c":148,"v":0.1},{"r":5,"c":149,"v":0.1},
{"r":5,"c":150,"v":0},{"r":5,"c":151,"v":0.1},{"r":5,"c":152,"v":0.2},{"r":5,"c":153,"v":0.1},{"r":5,"c":154,"v":0.2},{"r":5,"c":155,"v":0.3},{"r":5,"c":156,"v":0.2},{"r":5,"c":157,"v":0.2},{"r":5,"c":158,"v":0.2},{"r":5,"c":159,"v":0.2},
{"r":6,"c":0,"v":0},{"r":6,"c":1,"v":0},{"r":6,"c":2,"v":0},{"r":6,"c":3,"v":0},{"r":6,"c":4,"v":0},{"r":6,"c":5,"v":0},{"r":6,"c":6,"v":0},{"r":6,"c":7,"v":0},{"r":6,"c":8,"v":0},{"r":6,"c":9,"v":0},
{"r":6,"c":10,"v":0},{"r":6,"c":11,"v":0},{"r":6,"c":12,"v":0},{"r":6,"c":13,"v":0},{"r":6,"c":14,"v":0},{"r":6,"c":15,"v":0},{"r":6,"c":16,"v":0},{"r":6,"c":17,"v":0},{"r":6,"c":18,"v":0},{"r":6,"c":19,"v":0},
{"r":6,"c":20,"v":0},{"r":6,"c":21,"v":0},{"r":6,"c":22,"v":0},{"r":6,"c":23,"v":0},{"r":6,"c":24,"v":0},{"r":6,"c":25,"v":0},{"r":6,"c":26,"v":0},{"r":6,"c":27,"v":0},{"r":6,"c":28,"v":0},{"r":6,"c":29,"v":0},
{"r":6,"c":30,"v":0},{"r":6,"c":31,"v":0},{"r":6,"c":32,"v":0},{"r":6,"c":33,"v":0},{"r":6,"c":34,"v":0},{"r":6,"c":35,"v":0},{"r":6,"c":36,"v":0},{"r":6,"c":37,"v":0},{"r":6,"c":38,"v":0},{"r":6,"c":39,"v":0},
{"r":6,"c":40,"v":0},{"r":6,"c":41,"v":0},{"r":6,"c":42,"v":0},{"r":6,"c":43,"v":0},{"r":6,"c":44,"v":0},{"r":6,"c":45,"v":0},{"r":6,"c":46,"v":0},{"r":6,"c":47,"v":0},{"r":6,"c":48,"v":0},{"r":6,"c":49,"v":0},
{"r":6,"c":50,"v":0},{"r":6,"c":51,"v":0},{"r":6,"c":52,"v":0},{"r":6,"c":53,"v":0},{"r":6,"c":54,"v":0},{"r":6,"c":55,"v":0},{"r":6,"c":56,"v":0},{"r":6,"c":57,"v":0},{"r":6,"c":58,"v":0},{"r":6,"c":59,"v":0},
{"r":6,"c":60,"v":0},{"r":6,"c":61,"v":0},{"r":6,"c":62,"v":0},{"r":6,"c":63,"v":0},{"r":6,"c":64,"v":0},{"r":6,"c":65,"v":0},{"r":6,"c":66,"v":0},{"r":6,"c":67,"v":0},{"r":6,"c":68,"v":0},{"r":6,"c":69,"v":0},
{"r":6,"c":70,"v":0},{"r":6,"c":71,"v":0},{"r":6,"c":72,"v":0},{"r":6,"c":73,"v":0},{"r":6,"c":74,"v":0},{"r":6,"c":75,"v":0},{"r":6,"c":76,"v":0},{"r":6,"c":77,"v":0},{"r":6,"c":78,"v":0},{"r":6,"c":79,"v":0},
{"r":6,"c":80,"v":0},{"r":6,"c":81,"v":0},{"r":6,"c":82,"v":0},{"r":6,"c":83,"v":0},{"r":6,"c":84,"v":0},{"r":6,"c":85,"v":0},{"r":6,"c":86,"v":0},{"r":6,"c":87,"v":0},{"r":6,"c":88,"v":0},{"r":6,"c":89,"v":0},
{"r":6,"c":90,"v":0},{"r":6,"c":91,"v":0},{"r":6,"c":92,"v":0},{"r":6,"c":93,"v":0},{"r":6,"c":94,"v":0},{"r":6,"c":95,"v":0},{"r":6,"c":96,"v":0},{"r":6,"c":97,"v":0},{"r":6,"c":98,"v":0},{"r":6,"c":99,"v":0},
{"r":6,"c":100,"v":0},{"r":6,"c":101,"v":0},{"r":6,"c":102,"v":0},{"r":6,"c":103,"v":0},{"r":6,"c":104,"v":0},{"r":6,"c":105,"v":0},{"r":6,"c":106,"v":0},{"r":6,"c":107,"v":0},{"r":6,"c":108,"v":0},{"r":6,"c":109,"v":0},
{"r":6,"c":110,"v":0},{"r":6,"c":111,"v":0},{"r":6,"c":112,"v":0},{"r":6,"c":113,"v":0},{"r":6,"c":114,"v":0},{"r":6,"c":115,"v":0},{"r":6,"c":116,"v":0},{"r":6,"c":117,"v":0},{"r":6,"c":118,"v":0},{"r":6,"c":119,"v":0},
{"r":6,"c":120,"v":0},{"r":6,"c":121,"v":0},{"r":6,"c":122,"v":0},{"r":6,"c":123,"v":0},{"r":6,"c":124,"v":0},{"r":6,"c":125,"v":0},{"r":6,"c":126,"v":0},{"r":6,"c":127,"v":0},{"r":6,"c":128,"v":0},{"r":6,"c":129,"v":0},
{"r":6,"c":130,"v":0},{"r":6,"c":131,"v":0},{"r":6,"c":132,"v":0},{"r":6,"c":133,"v":0},{"r":6,"c":134,"v":0.1},{"r":6,"c":135,"v":0},{"r":6,"c":136,"v":0},{"r":6,"c":137,"v":0},{"r":6,"c":138,"v":0},{"r":6,"c":139,"v":0},
{"r":6,"c":140,"v":0},{"r":6,"c":141,"v":0},{"r":6,"c":142,"v":0},{"r":6,"c":143,"v":0},{"r":6,"c":144,"v":0},{"r":6,"c":145,"v":0},{"r":6,"c":146,"v":0},{"r":6,"c":147,"v":0},{"r":6,"c":148,"v":0},{"r":6,"c":149,"v":0},
{"r":6,"c":150,"v":0},{"r":6,"c":151,"v":0},{"r":6,"c":152,"v":0},{"r":6,"c":153,"v":0},{"r":6,"c":154,"v":0},{"r":6,"c":155,"v":0.1},{"r":6,"c":156,"v":0},{"r":6,"c":157,"v":0},{"r":6,"c":158,"v":0},{"r":6,"c":159,"v":0},
{"r":7,"c":0,"v":0.4},{"r":7,"c":1,"v":0.5},{"r":7,"c":2,"v":0.38},{"r":7,"c":3,"v":0.58},{"r":7,"c":4,"v":0.5},{"r":7,"c":5,"v":0.5},{"r":7,"c":6,"v":0.68},{"r":7,"c":7,"v":0.68},{"r":7,"c":8,"v":0.75},{"r":7,"c":9,"v":0.75},
{"r":7,"c":10,"v":0.68},{"r":7,"c":11,"v":0.88},{"r":7,"c":12,"v":0.8},{"r":7,"c":13,"v":0.8},{"r":7,"c":14,"v":0.98},{"r":7,"c":15,"v":0.88},{"r":7,"c":16,"v":0.98},{"r":7,"c":17,"v":0.9},{"r":7,"c":18,"v":1},{"r":7,"c":19,"v":1},
{"r":7,"c":20,"v":0.9},{"r":7,"c":21,"v":0.9},{"r":7,"c":22,"v":1},{"r":7,"c":23,"v":1},{"r":7,"c":24,"v":1},{"r":7,"c":25,"v":0.9},{"r":7,"c":26,"v":1},{"r":7,"c":27,"v":0.88},{"r":7,"c":28,"v":1},{"r":7,"c":29,"v":1},
{"r":7,"c":30,"v":1},{"r":7,"c":31,"v":1},{"r":7,"c":32,"v":1},{"r":7,"c":33,"v":0.9},{"r":7,"c":34,"v":0.9},{"r":7,"c":35,"v":1},{"r":7,"c":36,"v":0.9},{"r":7,"c":37,"v":0.9},{"r":7,"c":38,"v":0.9},{"r":7,"c":39,"v":0.8},
{"r":7,"c":40,"v":1},{"r":7,"c":41,"v":0.95},{"r":7,"c":42,"v":0.92},{"r":7,"c":43,"v":0.87},{"r":7,"c":44,"v":0.77},{"r":7,"c":45,"v":0.8},{"r":7,"c":46,"v":0.8},{"r":7,"c":47,"v":0.85},{"r":7,"c":48,"v":0.9},{"r":7,"c":49,"v":0.9},
{"r":7,"c":50,"v":0.9},{"r":7,"c":51,"v":0.9},{"r":7,"c":52,"v":0.9},{"r":7,"c":53,"v":0.93},{"r":7,"c":54,"v":1},{"r":7,"c":55,"v":0.87},{"r":7,"c":56,"v":0.87},{"r":7,"c":57,"v":0.93},{"r":7,"c":58,"v":1},{"r":7,"c":59,"v":1},
{"r":7,"c":60,"v":1},{"r":7,"c":61,"v":1},{"r":7,"c":62,"v":1},{"r":7,"c":63,"v":1},{"r":7,"c":64,"v":1},{"r":7,"c":65,"v":1},{"r":7,"c":66,"v":1},{"r":7,"c":67,"v":1},{"r":7,"c":68,"v":1},{"r":7,"c":69,"v":1},
{"r":7,"c":70,"v":1},{"r":7,"c":71,"v":1},{"r":7,"c":72,"v":0.98},{"r":7,"c":73,"v":0.8},{"r":7,"c":74,"v":0.8},{"r":7,"c":75,"v":0.9},{"r":7,"c":76,"v":0.9},{"r":7,"c":77,"v":0.9},{"r":7,"c":78,"v":0.9},{"r":7,"c":79,"v":0.9},
{"r":7,"c":80,"v":0.9},{"r":7,"c":81,"v":0.9},{"r":7,"c":82,"v":0.9},{"r":7,"c":83,"v":0.88},{"r":7,"c":84,"v":0.68},{"r":7,"c":85,"v":0.76},{"r":7,"c":86,"v":0.8},{"r":7,"c":87,"v":0.8},{"r":7,"c":88,"v":0.9},{"r":7,"c":89,"v":0.9},
{"r":7,"c":90,"v":0.9},{"r":7,"c":91,"v":0.9},{"r":7,"c":92,"v":0.9},{"r":7,"c":93,"v":0.9},{"r":7,"c":94,"v":0.87},{"r":7,"c":95,"v":0.8},{"r":7,"c":96,"v":0.88},{"r":7,"c":97,"v":0.9},{"r":7,"c":98,"v":0.9},{"r":7,"c":99,"v":0.87},
{"r":7,"c":100,"v":0.72},{"r":7,"c":101,"v":0.7},{"r":7,"c":102,"v":0.7},{"r":7,"c":103,"v":0.75},{"r":7,"c":104,"v":0.87},{"r":7,"c":105,"v":0.7},{"r":7,"c":106,"v":0.6},{"r":7,"c":107,"v":0.6},{"r":7,"c":108,"v":0.5},{"r":7,"c":109,"v":0.5},
{"r":7,"c":110,"v":0.57},{"r":7,"c":111,"v":0.57},{"r":7,"c":112,"v":0.63},{"r":7,"c":113,"v":0.57},{"r":7,"c":114,"v":0.5},{"r":7,"c":115,"v":0.48},{"r":7,"c":116,"v":0.58},{"r":7,"c":117,"v":0.7},{"r":7,"c":118,"v":0.4},{"r":7,"c":119,"v":0.3},
{"r":7,"c":120,"v":0.1},{"r":7,"c":121,"v":0.4},{"r":7,"c":122,"v":0.1},{"r":7,"c":123,"v":0.18},{"r":7,"c":124,"v":0.1},{"r":7,"c":125,"v":0.3},{"r":7,"c":126,"v":0},{"r":7,"c":127,"v":0.1},{"r":7,"c":128,"v":0.2},{"r":7,"c":129,"v":0.12},
{"r":7,"c":130,"v":0.2},{"r":7,"c":131,"v":0},{"r":7,"c":132,"v":0.1},{"r":7,"c":133,"v":0.2},{"r":7,"c":134,"v":0.1},{"r":7,"c":135,"v":0.1},{"r":7,"c":136,"v":0.3},{"r":7,"c":137,"v":0.2},{"r":7,"c":138,"v":0.2},{"r":7,"c":139,"v":0.1},
{"r":7,"c":140,"v":0.4},{"r":7,"c":141,"v":0.1},{"r":7,"c":142,"v":0.1},{"r":7,"c":143,"v":0},{"r":7,"c":144,"v":0.1},{"r":7,"c":145,"v":0.1},{"r":7,"c":146,"v":0.1},{"r":7,"c":147,"v":0.1},{"r":7,"c":148,"v":0.2},{"r":7,"c":149,"v":0},
{"r":7,"c":150,"v":0},{"r":7,"c":151,"v":0},{"r":7,"c":152,"v":0},{"r":7,"c":153,"v":0},{"r":7,"c":154,"v":0},{"r":7,"c":155,"v":0},{"r":7,"c":156,"v":0},{"r":7,"c":157,"v":0},{"r":7,"c":158,"v":0},{"r":7,"c":159,"v":0}
]},
"layer":[
{"mark":{"type":"rect","strokeWidth":0.8},"encoding":{
"color":{"field":"v","type":"quantitative","scale":{"domain":[0,1],"range":["#ffff66","#008066"],"interpolate":"rgb"},"legend":null},
"stroke":{"field":"v","type":"quantitative","scale":{"domain":[0,1],"range":["#ffff66","#008066"],"interpolate":"rgb"},"legend":null},
"x":{"field":"c","type":"ordinal","scale":{"paddingInner":0,"paddingOuter":0},"axis":{"orient":"bottom","values":[0,20,40,60,80,100,120,140],"title":null,"grid":false,"zindex":1,"ticks":true,"tickSize":-15,"tickWidth":3,"tickColor":"black","domain":true,"domainWidth":4,"domainColor":"black","labelPadding":31,"labelFont":"DejaVu Sans","labelFontSize":45,"labelColor":"black","labelAngle":0,"labelOverlap":false,"labelFlush":false}},
"y":{"field":"r","type":"ordinal","scale":{"paddingInner":0,"paddingOuter":0},"axis":{"orient":"left","title":null,"grid":false,"zindex":1,"ticks":true,"tickSize":-15,"tickWidth":3,"tickColor":"black","domain":true,"domainWidth":4,"domainColor":"black","labelPadding":32,"labelFont":"DejaVu Sans","labelFontSize":45,"labelColor":"black","labelOverlap":false,"labelFlush":false}}
}},
{"mark":{"type":"rect","opacity":0},"encoding":{
"x":{"field":"c","type":"ordinal","scale":{"paddingInner":0,"paddingOuter":0},"axis":{"orient":"top","values":[0,20,40,60,80,100,120,140],"title":null,"grid":false,"zindex":1,"ticks":true,"tickSize":-15,"tickWidth":3,"tickColor":"black","domain":true,"domainWidth":4,"domainColor":"black","labels":false}},
"y":{"field":"r","type":"ordinal","scale":{"paddingInner":0,"paddingOuter":0},"axis":{"orient":"right","title":null,"grid":false,"zindex":1,"ticks":true,"tickSize":-15,"tickWidth":3,"tickColor":"black","domain":true,"domainWidth":4,"domainColor":"black","labels":false}}
}}
],
"resolve":{"axis":{"x":"independent","y":"independent"}}
}
